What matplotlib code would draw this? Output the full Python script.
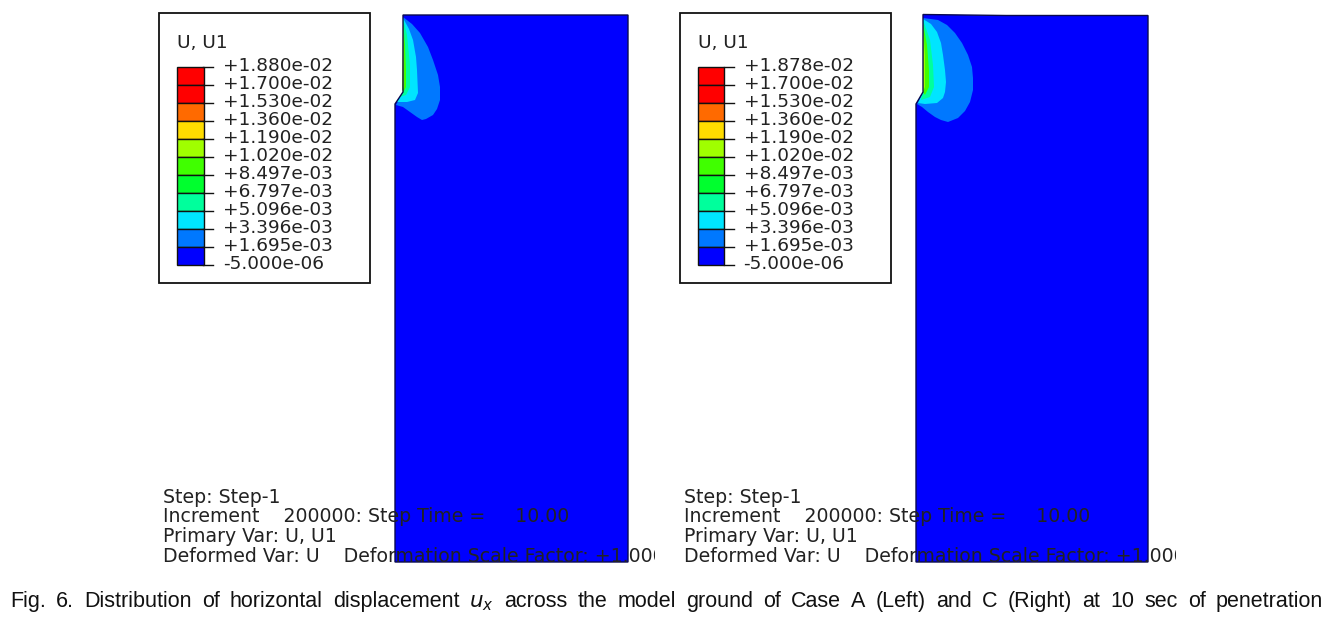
import matplotlib
matplotlib.use("Agg")
import matplotlib.pyplot as plt
from matplotlib.patches import Polygon, Rectangle

W, H = 1344, 619
LEVEL_COLORS = ["#ff0000", "#ff0000", "#ff6a00", "#ffdc00", "#a0ff00", "#40ff00",
                "#00ff2e", "#00ff9c", "#00e5ff", "#0078ff", "#0000ff"]
LABELS_A = ["+1.880e-02", "+1.700e-02", "+1.530e-02", "+1.360e-02", "+1.190e-02", "+1.020e-02",
            "+8.497e-03", "+6.797e-03", "+5.096e-03", "+3.396e-03", "+1.695e-03", "-5.000e-06"]
LABELS_C = ["+1.878e-02"] + LABELS_A[1:]
INFO = ["Step: Step-1", "Increment    200000: Step Time =     10.00", "Primary Var: U, U1",
        "Deformed Var: U    Deformation Scale Factor: +1.000e+00"]
CAPTION = ["Fig.", "6.", "Distribution", "of", "horizontal", "displacement", r"$u_x$", "across", "the",
           "model", "ground", "of", "Case", "A", "(Left)", "and", "C", "(Right)", "at", "10", "sec", "of", "penetration"]

GROUND_A = [(8, 0), (233, 0), (233, 547), (0, 547), (0, 89), (8, 77)]
GROUND_C = [(7, -0.5), (90, 0.5), (232, 0.5), (232, 547), (0, 547), (0, 89), (7, 77)]
A_BANDS = [("#0078ff", [(8, 2), (17, 9), (25, 18), (33, 32), (38, 45), (43, 60), (45, 72), (45, 85), (42, 94), (38, 100), (31, 104), (27, 105), (22, 102), (15, 97), (8, 92), (1, 90), (8, 77)]),
           ("#00e5ff", [(8, 3), (14, 14), (18, 25), (21, 42), (22, 55), (23, 78), (20, 85), (12, 87), (5, 87), (2, 87), (8, 77)]),
           ("#00ff9c", [(8, 3), (12, 20), (15, 50), (15, 72), (11, 80), (5, 82), (8, 77)]),
           ("#40ff00", [(8, 5), (10, 30), (11, 55), (11, 72), (8, 78)]),
           ("#a0ff00", [(8, 10), (9, 40), (9, 72), (7, 77)])]
C_BANDS = [("#0078ff", [(7, 3), (22, 5), (31, 10), (39, 18), (46, 28), (52, 40), (56, 52), (57, 63), (57, 75), (54, 87), (49, 96), (42, 103), (32, 107), (25, 105), (19, 102), (12, 97), (6, 92), (1, 89), (7, 77)]),
           ("#00e5ff", [(7, 4), (15, 9), (21, 17), (25, 28), (27, 40), (29, 55), (30, 67), (29, 77), (27, 83), (21, 88), (9, 89), (2, 88), (7, 77)]),
           ("#00ff9c", [(7, 5), (14, 25), (17, 50), (18, 72), (14, 82), (5, 85), (7, 77)]),
           ("#40ff00", [(7, 8), (11, 30), (13, 55), (13, 72), (9, 80), (7, 77)]),
           ("#a0ff00", [(7, 12), (9, 40), (9, 72), (7, 77)])]

fig = plt.figure(figsize=(W / 100, H / 100), dpi=100)
ax = fig.add_axes([0, 0, 1, 1])
ax.set_xlim(0, W)
ax.set_ylim(H, 0)
ax.axis("off")
FONT = "DejaVu Sans"
INK = "#222222"


def panel(x0, labels, ground_pts, bands, gx, gy, clip_right):
    ax.add_patch(Rectangle((x0, 13), 211, 270, fc="white", ec="#111111", lw=1.3))
    ax.text(x0 + 18, 43.5, "U, U1", fontsize=13.3, family=FONT, va="center", color=INK)
    top = 67
    step = 18
    for i, c in enumerate(LEVEL_COLORS):
        ax.add_patch(Rectangle((x0 + 18, top + i * step), 26.5, step, fc=c, ec="#111111", lw=1.0))
    for i, lab in enumerate(labels):
        y = top + i * step
        ax.plot([x0 + 44, x0 + 54], [y, y], color="#111111", lw=1.0)
        ax.text(x0 + 64, y - 1.2, lab, fontsize=13.3, family=FONT, va="center", color=INK)
    ground = [(gx + x, gy + y) for x, y in ground_pts]
    ax.add_patch(Polygon(ground, closed=True, fc="#0000ff", ec="none", zorder=2))
    for c, pts in bands:
        ax.add_patch(Polygon([(gx + x, gy + y) for x, y in pts], closed=True, fc=c, ec="none", zorder=3))
    ax.add_patch(Polygon(ground, closed=True, fc="none", ec="#0a0a50", lw=1.0, zorder=4))
    clip = Rectangle((0, 0), clip_right, H, transform=ax.transData)
    for i, line in enumerate(INFO):
        t = ax.text(x0 + 4, 497.5 + i * 19.5, line, fontsize=13.6, family=FONT, va="center", color=INK, zorder=5)
        t.set_clip_path(clip)
        t.set_clip_on(True)


panel(159, LABELS_A, GROUND_A, A_BANDS, 395, 15, 655)
panel(679.5, LABELS_C, GROUND_C, C_BANDS, 916, 15, 1176)

# Caption, justified across the line
left, right, base = 10, 1323, 607
fig.canvas.draw()
r = fig.canvas.get_renderer()
items = [ax.text(0, base, w, fontsize=15.5, family="Liberation Sans", va="baseline", color="#111111") for w in CAPTION]
widths = [t.get_window_extent(r).width for t in items]
gap = (right - left - sum(widths)) / (len(items) - 1)
x = left
for t, w in zip(items, widths):
    t.set_x(x)
    x += w + gap

fig.savefig("out.png", dpi=100)
